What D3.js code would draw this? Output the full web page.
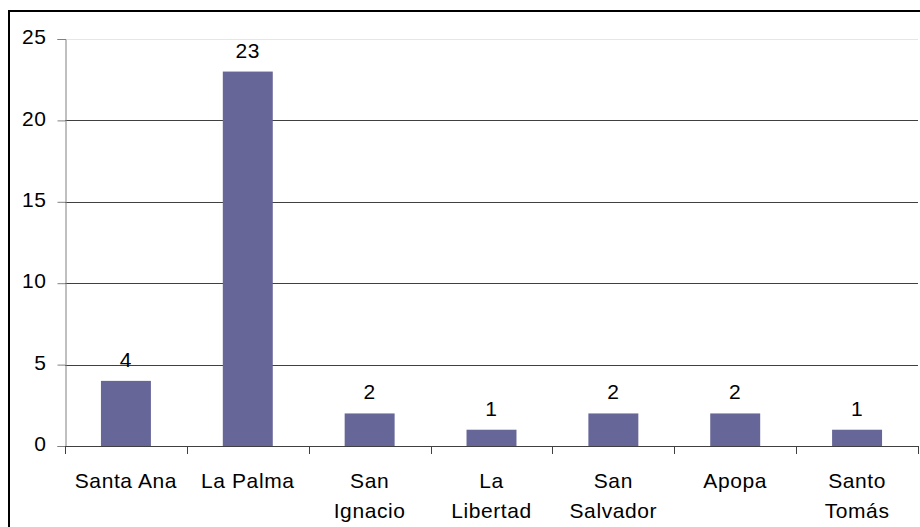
<!DOCTYPE html>
<html>
<head>
<meta charset="utf-8">
<script src="https://cdn.jsdelivr.net/npm/d3@7"></script>
<style>
  body { margin: 0; background: #fff; }
  svg text { font-family: "Liberation Sans", Arial, sans-serif; fill: #000; letter-spacing: 0.6px; }
</style>
</head>
<body>
<div id="chart"></div>
<script>
// datos del gráfico
const categories = ['Santa Ana', 'La Palma', 'San Ignacio', 'La Libertad', 'San Salvador', 'Apopa', 'Santo Tomás'];
const categoryLines = [['Santa Ana'], ['La Palma'], ['San', 'Ignacio'], ['La', 'Libertad'], ['San', 'Salvador'], ['Apopa'], ['Santo', 'Tomás']];
const values = [4, 23, 2, 1, 2, 2, 1];
const yTicks = [0, 5, 10, 15, 20, 25];

const width = 920, height = 527;
const svg = d3.select('#chart').append('svg')
    .attr('width', width)
    .attr('height', height);

// marco exterior
svg.append('rect')
    .attr('x', 9).attr('y', 11)
    .attr('width', 930).attr('height', 540)
    .attr('fill', 'none')
    .attr('stroke', '#000')
    .attr('stroke-width', 2);

const plotLeft = 65, plotRight = 918, plotTop = 39, plotBottom = 446;

const x = d3.scaleBand().domain(categories).range([plotLeft, plotRight]).paddingInner(0.59).paddingOuter(0.295);
const xBand = d3.scaleBand().domain(categories).range([plotLeft, plotRight]);
const y = d3.scaleLinear().domain([0, 25]).range([plotBottom, plotTop]);

// líneas de cuadrícula
svg.selectAll('line.grid')
    .data(yTicks.filter(t => t > 0))
    .enter()
    .append('line')
    .attr('class', 'grid')
    .attr('x1', plotLeft).attr('x2', plotRight)
    .attr('y1', d => Math.round(y(d)) + 0.5)
    .attr('y2', d => Math.round(y(d)) + 0.5)
    .attr('stroke', d => d === 25 ? '#e6e6e6' : '#404040')
    .attr('stroke-width', 1);

// barras
svg.selectAll('rect.bar')
    .data(values)
    .enter()
    .append('rect')
    .attr('class', 'bar')
    .attr('x', (d, i) => x(categories[i]))
    .attr('width', x.bandwidth())
    .attr('y', d => y(d))
    .attr('height', d => plotBottom - y(d))
    .attr('fill', '#666699');

// etiquetas de valores
svg.selectAll('text.val')
    .data(values)
    .enter()
    .append('text')
    .attr('class', 'val')
    .attr('x', (d, i) => x(categories[i]) + x.bandwidth() / 2)
    .attr('y', d => y(d) - 14)
    .attr('text-anchor', 'middle')
    .attr('font-size', '21px')
    .text(d => d);

// eje Y
const yAxis = svg.append('g')
    .attr('transform', `translate(${plotLeft + 0.5},0)`)
    .call(d3.axisLeft(y).tickValues(yTicks).tickSize(8).tickPadding(11));
yAxis.select('.domain').attr('stroke', '#808080');
yAxis.selectAll('.tick line').attr('stroke', '#808080');
yAxis.selectAll('.tick text')
    .attr('font-size', '21px')
    .attr('font-family', '"Liberation Sans", Arial, sans-serif')
    .attr('dy', '0.22em');

// eje X
svg.append('line')
    .attr('x1', plotLeft).attr('x2', plotRight)
    .attr('y1', plotBottom + 0.5).attr('y2', plotBottom + 0.5)
    .attr('stroke', '#404040');
const tickXs = categories.map(c => xBand(c)).concat([plotRight]);
svg.selectAll('line.xtick')
    .data(tickXs)
    .enter()
    .append('line')
    .attr('x1', d => Math.round(d) + 0.5).attr('x2', d => Math.round(d) + 0.5)
    .attr('y1', plotBottom).attr('y2', plotBottom + 8)
    .attr('stroke', '#404040');

// etiquetas de categorías
const labels = svg.selectAll('text.cat')
    .data(categoryLines)
    .enter()
    .append('text')
    .attr('class', 'cat')
    .attr('text-anchor', 'middle')
    .attr('font-size', '21px');
labels.each(function (lines, i) {
    const cx = xBand(categories[i]) + xBand.bandwidth() / 2;
    d3.select(this).selectAll('tspan')
        .data(lines)
        .enter()
        .append('tspan')
        .attr('x', cx)
        .attr('y', (l, j) => 488 + j * 30)
        .text(l => l);
});
</script>
</body>
</html>
